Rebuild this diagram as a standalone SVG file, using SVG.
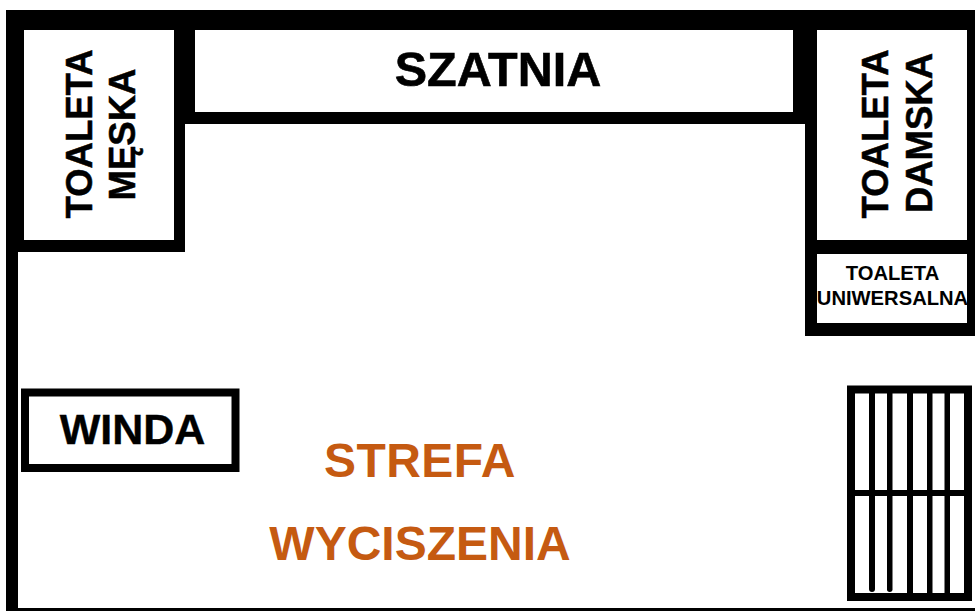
<svg xmlns="http://www.w3.org/2000/svg" width="975" height="611" viewBox="0 0 975 611">
<style>
.w{fill:#000}
text{font-family:"Liberation Sans",Arial,sans-serif;font-weight:700;fill:#000;text-anchor:middle}
.v{font-size:36.500px;stroke:#000;stroke-width:.5px}
.s{font-size:20.200px}
.o{font-size:48px;fill:#c55a11}
</style>
<rect width="975" height="611" fill="#fff"/>
<g id="walls">
<rect class="w" x="6" y="10" width="969" height="20"/>
<rect class="w" x="6" y="10" width="12" height="601"/>
<rect class="w" x="6" y="10" width="18" height="242"/>
<rect class="w" x="6" y="240" width="179" height="12"/>
<rect class="w" x="174" y="10" width="11" height="242"/>
<rect class="w" x="185" y="10" width="10" height="114"/>
<rect class="w" x="185" y="112" width="620" height="12"/>
<rect class="w" x="793" y="10" width="24" height="114"/>
<rect class="w" x="805" y="10" width="12" height="326"/>
<rect class="w" x="805" y="240" width="170" height="14"/>
<rect class="w" x="805" y="323" width="170" height="13"/>
<rect class="w" x="967" y="10" width="8" height="326"/>
<rect class="w" x="6" y="608" width="969" height="3"/>
</g>
<g id="toaleta-meska">
<text class="v" transform="translate(92 134) rotate(-90)">TOALETA</text>
<text class="v" transform="translate(135 134.500) rotate(-90)">MĘSKA</text>
</g>
<g id="szatnia"><text x="498" y="85.500" style="font-size:48.500px;stroke:#000;stroke-width:.6px">SZATNIA</text></g>
<g id="toaleta-damska">
<text class="v" transform="translate(888 134) rotate(-90)">TOALETA</text>
<text class="v" transform="translate(932 133) rotate(-90)">DAMSKA</text>
</g>
<g id="toaleta-uniwersalna">
<text class="s" x="892.500" y="280">TOALETA</text>
<text class="s" x="892.500" y="305">UNIWERSALNA</text>
</g>
<g id="winda">
<rect x="25" y="392.500" width="210.500" height="75.500" fill="#fff" stroke="#000" stroke-width="8"/>
<text x="132.500" y="444" style="font-size:43px;stroke:#000;stroke-width:.4px">WINDA</text>
</g>
<g id="strefa-wyciszenia">
<text class="o" x="420" y="477" style="letter-spacing:.4px">STREFA</text>
<text class="o" x="420" y="560">WYCISZENIA</text>
</g>
<g id="schody">
<rect x="851" y="389.500" width="117" height="207.500" fill="#fff" stroke="#000" stroke-width="8"/>
<rect class="w" x="855" y="490" width="109" height="6"/>
<rect class="w" x="869" y="390" width="6" height="202" rx="3"/>
<rect class="w" x="887" y="390" width="5.500" height="202" rx="2.700"/>
<rect class="w" x="907" y="390" width="6" height="205"/>
<rect class="w" x="927" y="390" width="5.500" height="205"/>
<rect class="w" x="944.500" y="390" width="5.500" height="205"/>
</g>
</svg>
